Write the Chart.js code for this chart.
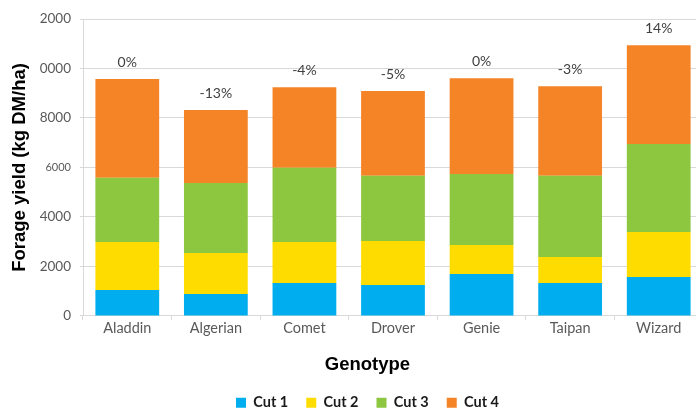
<!DOCTYPE html>
<html>
<head>
<meta charset="utf-8">
<title>Forage yield by genotype</title>
<script src="https://cdn.jsdelivr.net/npm/chart.js@4.4.0/dist/chart.umd.min.js"></script>
<style>
  html, body { margin: 0; padding: 0; overflow: hidden; background: #fff; }
  canvas { display: block; }
</style>
</head>
<body>
<canvas id="yieldChart" width="735" height="420"></canvas>
<script>
// --- Data ---
const genotypes = ['Aladdin', 'Algerian', 'Comet', 'Drover', 'Genie', 'Taipan', 'Wizard'];
const cut1 = [1050, 890, 1330, 1250, 1695, 1330, 1575];
const cut2 = [1940, 1655, 1660, 1780, 1170, 1050, 1815];
const cut3 = [2595, 2825, 3000, 2635, 2870, 3285, 3555];
const cut4 = [3985, 2950, 3255, 3420, 3875, 3620, 3995];
const changeLabels = ['0%', '-13%', '-4%', '-5%', '0%', '-3%', '14%'];
const yTickLabels = ['0', '2000', '4000', '6000', '8000', '0000', '2000'];
const cutNames = ['Cut 1', 'Cut 2', 'Cut 3', 'Cut 4'];
const cutColors = ['#00AEEF', '#FFDC00', '#8DC63F', '#F58427'];

document.addEventListener('DOMContentLoaded', function() {

    Chart.defaults.font.family = 'Lato';

    // --- % change written above each stack ---
    const totalLabels = {
        id: 'totalLabels',
        afterDatasetsDraw(chart) {
            const ctx = chart.ctx;
            const meta = chart.getDatasetMeta(chart.data.datasets.length - 1);
            ctx.save();
            ctx.font = '14px Lato';
            ctx.fillStyle = '#404040';
            ctx.textAlign = 'center';
            ctx.textBaseline = 'middle';
            meta.data.forEach((bar, i) => ctx.fillText(changeLabels[i], bar.x, bar.y - 17));
            ctx.restore();
        }
    };

    const series = [cut1, cut2, cut3, cut4];

    new Chart(document.getElementById('yieldChart').getContext('2d'), {
        type: 'bar',
        data: {
            labels: genotypes,
            datasets: series.map((values, i) => ({
                label: cutNames[i],
                data: values,
                backgroundColor: cutColors[i],
                borderWidth: 0,
                barPercentage: 0.72,
                categoryPercentage: 1
            }))
        },
        options: {
            responsive: false,
            animation: false,
            layout: { padding: { top: 19, left: 0, right: 0, bottom: 0 } },
            plugins: {
                tooltip: { enabled: false },
                legend: {
                    position: 'bottom',
                    labels: {
                        boxWidth: 10,
                        boxHeight: 10,
                        padding: 18,
                        color: '#1a1a1a',
                        font: { size: 14.5, weight: 'bold' }
                    }
                },
                title: {
                    display: true,
                    position: 'bottom',
                    weight: 500,
                    text: 'Genotype',
                    color: '#000',
                    font: { family: 'Liberation Sans', size: 18.5, weight: 'bold' },
                    padding: { top: 17, bottom: 1 }
                }
            },
            scales: {
                x: {
                    stacked: true,
                    grid: { offset: true, drawOnChartArea: false, tickLength: 4, color: '#d9d9d9' },
                    border: { color: '#d9d9d9' },
                    ticks: { color: '#595959', padding: 0, font: { size: 14.5 } }
                },
                y: {
                    stacked: true,
                    min: 0,
                    max: 12000,
                    grid: { color: '#d9d9d9', tickLength: 3 },
                    border: { color: '#d9d9d9' },
                    ticks: {
                        stepSize: 2000,
                        padding: 9,
                        color: '#595959',
                        font: c => ({ family: 'Lato', size: c.index === 3 ? 11 : 13.5 }),
                        callback: (value, index) => yTickLabels[index]
                    },
                    title: {
                        display: true,
                        text: 'Forage yield (kg DM/ha)',
                        color: '#000',
                        font: { family: 'Liberation Sans', size: 18.5, weight: 'bold' },
                        padding: { top: 9, bottom: 0 }
                    },
                    afterFit(scale) { scale.width = 83; }
                },
                // empty right-hand gutter so the plot runs past the window edge like the original crop
                gutter: {
                    type: 'linear',
                    position: 'right',
                    grid: { display: false },
                    border: { display: false },
                    ticks: { display: false },
                    afterFit(scale) { scale.width = 32; }
                }
            }
        },
        plugins: [totalLabels]
    });
});
</script>
</body>
</html>
